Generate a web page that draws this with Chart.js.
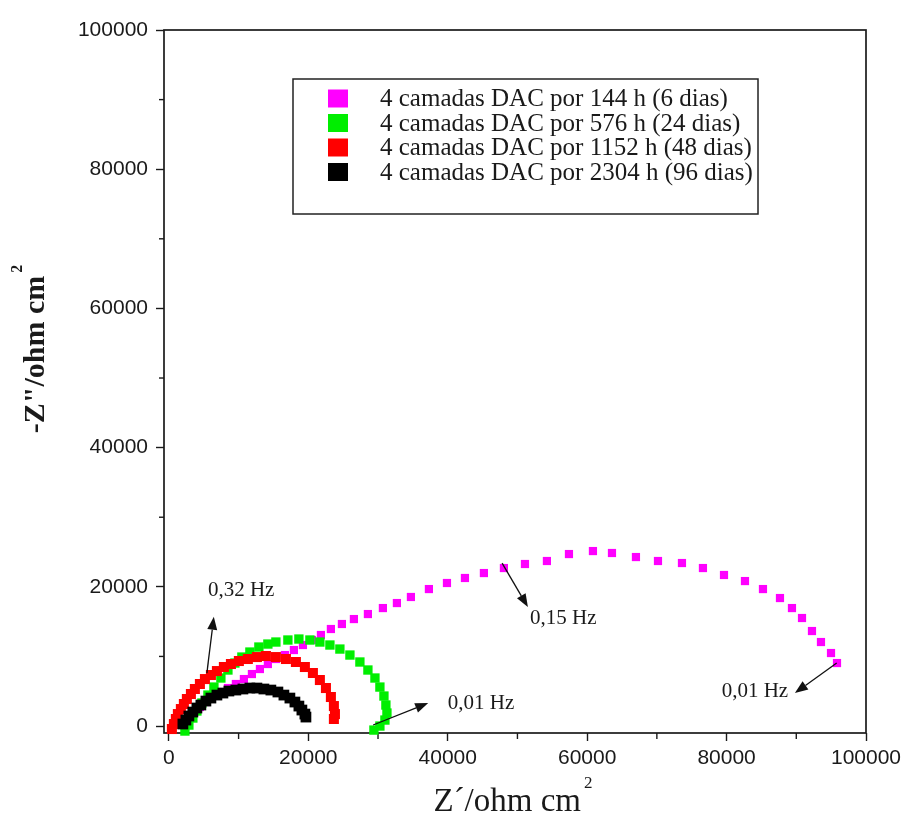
<!DOCTYPE html>
<html>
<head>
<meta charset="utf-8">
<script src="https://cdn.jsdelivr.net/npm/chart.js@4.4.1/dist/chart.umd.min.js"></script>
<style>
  html, body { margin: 0; padding: 0; background: #fff; }
  #wrap { width: 907px; height: 825px; }
</style>
</head>
<body>
<div id="wrap"><canvas id="nyquist"></canvas></div>
<script>
// Nyquist plot, 4 camadas DAC after different immersion times

const seriesLabels = [
  '4 camadas DAC por 144 h (6 dias)',
  '4 camadas DAC por 576 h (24 dias)',
  '4 camadas DAC por 1152 h (48 dias)',
  '4 camadas DAC por 2304 h (96 dias)'
];
const seriesColors = ['#ff00ff', '#00ee00', '#ff0000', '#000000'];

// 144 h
const zRe144 = [4450, 5310, 6170, 7320, 8470, 9610, 10760, 11910, 13060, 14200, 15350, 16640, 17930, 19230, 20520,
  21810, 23240, 24820, 26540, 28550, 30700, 32710, 34720, 37300, 39890, 42470, 45190, 48060, 51080, 54230,
  57390, 60830, 63560, 67000, 70160, 73600, 76610, 79630, 82640, 85220, 87660, 89380, 90820, 92250, 93540,
  94980, 95840];
const zIm144 = [2730, 3450, 4310, 4890, 5460, 6040, 6750, 7470, 8190, 8910, 9630, 10200, 10920, 11640, 12360,
  13080, 13940, 14660, 15370, 16090, 16950, 17670, 18540, 19680, 20550, 21270, 21980, 22700, 23280, 23710,
  24710, 25140, 24860, 24280, 23710, 23420, 22700, 21700, 20830, 19680, 18390, 16950, 15520, 13650, 12070,
  10490, 9050];

// 576 h
const zRe576 = [2300, 2870, 3440, 4020, 4740, 5600, 6460, 7460, 8470, 9470, 10470, 11620, 12910, 14200, 15350,
  17070, 18650, 20230, 21660, 23100, 24530, 25970, 27400, 28550, 29560, 30270, 30850, 31130, 31280, 30990,
  30270, 29410];
const zIm576 = [-720, 140, 1150, 2160, 3310, 4450, 5600, 6900, 8050, 9050, 9910, 10630, 11350, 11780, 12070,
  12360, 12500, 12360, 12070, 11640, 11060, 10200, 9200, 8050, 6900, 5600, 4310, 3020, 1870, 860,
  0, -580];

// 1152 h
const zRe1152 = [430, 720, 1000, 1290, 1720, 2150, 2580, 3160, 3730, 4450, 5170, 6030, 6890, 7890, 8900,
  10040, 11330, 12630, 13920, 15350, 16790, 18220, 19510, 20660, 21660, 22530, 23240, 23670, 23820, 23670];
const zIm1152 = [-430, 290, 1010, 1720, 2440, 3160, 3880, 4600, 5320, 6040, 6750, 7330, 7900, 8480, 8910,
  9340, 9630, 9910, 10060, 9910, 9630, 9200, 8480, 7620, 6610, 5460, 4170, 2870, 1720, 1010];

// 2304 h
const zRe2304 = [2010, 2440, 2870, 3440, 4020, 4590, 5310, 6030, 6890, 7750, 8610, 9610, 10620, 11620, 12630,
  13630, 14630, 15640, 16500, 17360, 18080, 18650, 19080, 19510, 19660];
const zIm2304 = [290, 860, 1440, 2010, 2590, 3020, 3590, 4020, 4450, 4740, 5030, 5170, 5320, 5460, 5460,
  5320, 5170, 4890, 4450, 4020, 3450, 2870, 2300, 1720, 1290];

const axisTicks = [0, 10000, 20000, 30000, 40000, 50000, 60000, 70000, 80000, 90000, 100000];

// frequency notes: text anchor and arrow (tail -> head), in data units
const notes = [
  { text: '0,32 Hz', tx: 5600, ty: 19500, from: [5450, 7600], to: [6450, 15700] },
  { text: '0,15 Hz', tx: 51800, ty: 15500, from: [47800, 23400], to: [51500, 17100] },
  { text: '0,01 Hz', tx: 40000, ty: 3300, from: [29300, 150], to: [37200, 3300] },
  { text: '0,01 Hz', tx: 79300, ty: 4900, from: [95800, 9050], to: [89800, 4750] }
];

const pairs = (xs, ys) => xs.map((v, i) => ({ x: v, y: ys[i] }));
const seriesData = [pairs(zRe144, zIm144), pairs(zRe576, zIm576), pairs(zRe1152, zIm1152), pairs(zRe2304, zIm2304)];
const markerRadius = [5.8, 6.6, 7.1, 7.6];

const serif = "'Liberation Serif', 'Times New Roman', serif";
const sans = "'Liberation Sans', Arial, sans-serif";

function arrow(ctx, x1, y1, x2, y2) {
  const ang = Math.atan2(y2 - y1, x2 - x1);
  const len = 13, half = 5;
  const bx = x2 - len * Math.cos(ang), by = y2 - len * Math.sin(ang);
  ctx.beginPath();
  ctx.moveTo(x1, y1);
  ctx.lineTo(bx, by);
  ctx.stroke();
  ctx.beginPath();
  ctx.moveTo(x2, y2);
  ctx.lineTo(bx + half * Math.sin(ang), by - half * Math.cos(ang));
  ctx.lineTo(bx - half * Math.sin(ang), by + half * Math.cos(ang));
  ctx.closePath();
  ctx.fill();
}

function titleWithSup(ctx, main, font, supFont, raise) {
  ctx.font = font;
  const w1 = ctx.measureText(main).width;
  ctx.font = supFont;
  const w2 = ctx.measureText('2').width;
  const start = -(w1 + w2 + 3) / 2;
  ctx.font = font;
  ctx.fillText(main, start, 0);
  ctx.font = supFont;
  ctx.fillText('2', start + w1 + 3, -raise);
}

const extras = {
  id: 'extras',
  beforeDatasetsDraw(chart) {
    const { ctx, chartArea: a, scales: { x, y } } = chart;
    ctx.save();
    ctx.strokeStyle = '#1a1a1a';
    ctx.lineWidth = 1.7;
    ctx.strokeRect(a.left, a.top, a.right - a.left, a.bottom - a.top);
    // short minor ticks
    ctx.lineWidth = 1.4;
    axisTicks.filter(v => v % 20000 !== 0).forEach(v => {
      const px = x.getPixelForValue(v);
      ctx.beginPath(); ctx.moveTo(px, a.bottom); ctx.lineTo(px, a.bottom + 6); ctx.stroke();
      const py = y.getPixelForValue(v);
      ctx.beginPath(); ctx.moveTo(a.left, py); ctx.lineTo(a.left - 5, py); ctx.stroke();
    });
    ctx.restore();
  },
  afterDraw(chart) {
    const { ctx, chartArea: a, scales: { x, y } } = chart;
    ctx.save();

    // arrows + frequency labels
    ctx.strokeStyle = '#111';
    ctx.lineWidth = 1.3;
    notes.forEach(n => {
      ctx.fillStyle = '#111';
      arrow(ctx, x.getPixelForValue(n.from[0]), y.getPixelForValue(n.from[1]),
        x.getPixelForValue(n.to[0]), y.getPixelForValue(n.to[1]));
      ctx.font = '21px ' + serif;
      ctx.textBaseline = 'middle';
      ctx.textAlign = 'left';
      ctx.fillStyle = '#1a1a1a';
      ctx.fillText(n.text, x.getPixelForValue(n.tx), y.getPixelForValue(n.ty));
    });

    // legend box
    const lx = a.left + 129, ly = a.top + 49, lw = 465, lh = 135;
    ctx.fillStyle = '#fff';
    ctx.fillRect(lx, ly, lw, lh);
    ctx.strokeStyle = '#222';
    ctx.lineWidth = 1.5;
    ctx.strokeRect(lx, ly, lw, lh);
    ctx.font = '25px ' + serif;
    ctx.textBaseline = 'middle';
    seriesLabels.forEach((lab, i) => {
      const cy = ly + 19.5 + i * 24.5;
      ctx.fillStyle = seriesColors[i];
      ctx.fillRect(lx + 35, cy - 9, 20, 18);
      ctx.fillStyle = '#1a1a1a';
      ctx.fillText(lab, lx + 87, cy + 1);
    });

    // axis titles
    ctx.fillStyle = '#1a1a1a';
    ctx.textBaseline = 'alphabetic';
    ctx.save();
    ctx.translate(513, 811);
    titleWithSup(ctx, 'Z\u00b4/ohm cm', '33px ' + serif, '17px ' + serif, 23);
    ctx.restore();
    ctx.save();
    ctx.translate(44, 349);
    ctx.rotate(-Math.PI / 2);
    titleWithSup(ctx, '-Z"/ohm cm', 'bold 30px ' + serif, 'bold 16px ' + serif, 22);
    ctx.restore();

    ctx.restore();
  }
};

const tickFont = { family: sans, size: 21 };
const majorOnly = v => (v % 20000 === 0 ? String(v) : '');

new Chart(document.getElementById('nyquist'), {
  type: 'scatter',
  data: {
    datasets: seriesData.map((d, i) => ({
      label: seriesLabels[i],
      data: d,
      backgroundColor: seriesColors[i],
      borderWidth: 0,
      pointStyle: 'rect',
      pointRadius: markerRadius[i],
      pointHoverRadius: markerRadius[i],
      clip: false,
      order: 4 - i
    }))
  },
  options: {
    responsive: true,
    maintainAspectRatio: false,
    animation: false,
    events: [],
    layout: { padding: { top: 30, right: 41, left: 0, bottom: 0 } },
    plugins: { legend: { display: false }, tooltip: { enabled: false } },
    scales: {
      x: {
        type: 'linear',
        min: -700,
        max: 100000,
        afterBuildTicks: s => { s.ticks = axisTicks.map(v => ({ value: v })); },
        afterFit: s => { s.height = 92; },
        border: { display: false },
        grid: {
          drawOnChartArea: false,
          tickLength: 8,
          tickWidth: 1.4,
          tickColor: c => (c.tick && c.tick.value % 20000 === 0 ? '#1a1a1a' : 'rgba(0,0,0,0)')
        },
        ticks: { autoSkip: false, maxRotation: 0, padding: 5, color: '#1a1a1a', font: tickFont, callback: majorOnly }
      },
      y: {
        type: 'linear',
        min: -1000,
        max: 100000,
        afterBuildTicks: s => { s.ticks = axisTicks.map(v => ({ value: v })); },
        afterFit: s => { s.width = 164; },
        border: { display: false },
        grid: {
          drawOnChartArea: false,
          tickLength: 8,
          tickWidth: 1.4,
          tickColor: c => (c.tick && c.tick.value % 20000 === 0 ? '#1a1a1a' : 'rgba(0,0,0,0)')
        },
        ticks: { autoSkip: false, padding: 8, color: '#1a1a1a', font: tickFont, callback: majorOnly }
      }
    }
  },
  plugins: [extras]
});
</script>
</body>
</html>
